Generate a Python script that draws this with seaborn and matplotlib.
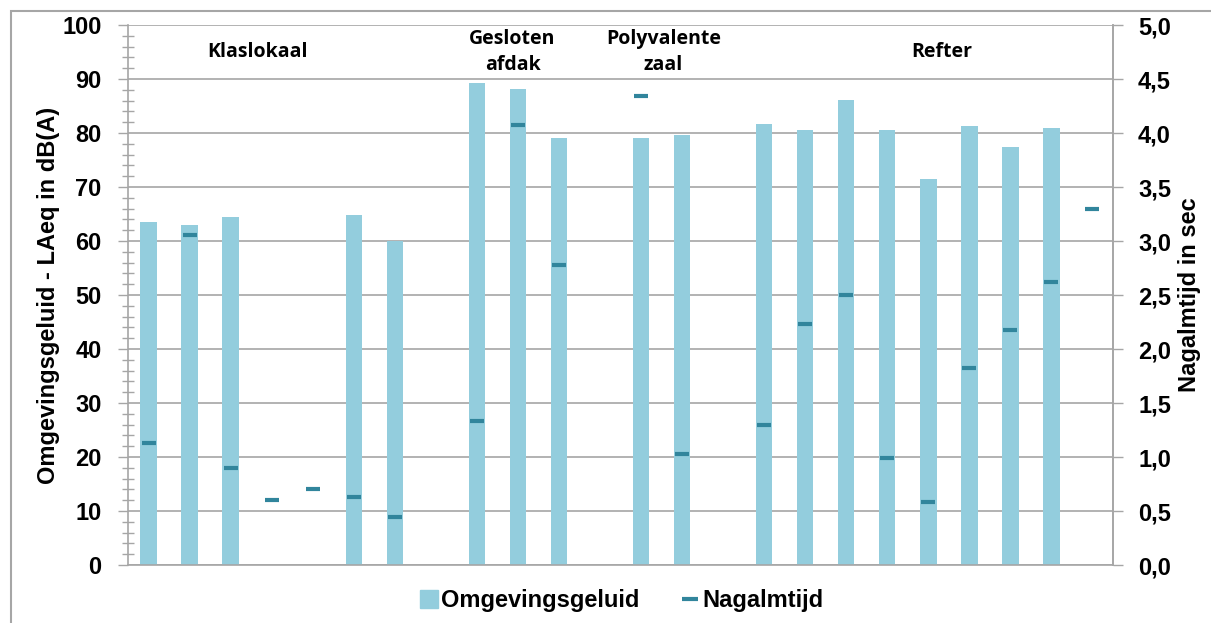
import numpy as np
import pandas as pd
import matplotlib
matplotlib.use("Agg")
import matplotlib.pyplot as plt
from matplotlib.lines import Line2D
from matplotlib.patches import Rectangle
from matplotlib.ticker import MultipleLocator, FuncFormatter
import seaborn as sns

# ---- data ----
slots = [f"m{i+1}" for i in range(24)]
omgevingsgeluid = [63.6, 62.9, 64.4, None, None, 64.9, 60.0, None,
                   89.3, 88.1, 79.1, None, 79.1, 79.6, None,
                   81.7, 80.6, 86.2, 80.6, 71.4, 81.3, 77.5, 81.0, None]
nagalmtijd = [1.13, 3.06, 0.90, 0.60, 0.70, 0.63, 0.44, None,
              1.33, 4.07, 2.78, None, 4.34, 1.03, None,
              1.30, 2.23, 2.50, 0.99, 0.58, 1.82, 2.18, 2.62, 3.30]
groups = ["Klaslokaal", "Gesloten\nafdak", "Polyvalente\nzaal", "Refter"]
group_pos = [2.65, 8.87, 12.55, 19.33]
left_ticks = list(range(0, 101, 10))
right_ticks = [i * 0.5 for i in range(11)]
series_names = ["Omgevingsgeluid", "Nagalmtijd"]
left_label = "Omgevingsgeluid - LAeq in dB(A)"
right_label = "Nagalmtijd in sec"

bar_color = "#93CDDD"
mark_color = "#31859C"
grid_color = "#A6A6A6"

df = pd.DataFrame({
    "slot": slots,
    "pos": np.arange(len(slots)),
    "geluid": pd.Series(omgevingsgeluid, dtype="float"),
    "nagalm": pd.Series(nagalmtijd, dtype="float"),
})

sns.set_theme(style="white")
plt.rcParams["font.family"] = ["Liberation Sans", "DejaVu Sans"]
plt.rcParams["text.color"] = "black"
plt.rcParams["axes.labelcolor"] = "black"
plt.rcParams["xtick.color"] = "black"
plt.rcParams["ytick.color"] = "black"

W, H = 1211, 623
fig = plt.figure(figsize=(W / 100, H / 100), dpi=100)
ax = fig.add_axes([128 / W, 1 - 565 / H, (1113 - 128) / W, (565 - 25) / H])

sns.barplot(data=df, x="slot", y="geluid", order=slots, color=bar_color,
            saturation=1, width=0.4, ax=ax, edgecolor="none", errorbar=None)
ax.set_xlim(-0.5, len(slots) - 0.5)
ax.set_ylim(0, 100)
ax.set_xticks([])
ax.set_xlabel("")
ax.set_yticks(left_ticks)
ax.yaxis.set_minor_locator(MultipleLocator(2))
ax.tick_params(axis="y", which="major", direction="out", length=7, width=1,
               color=grid_color, labelcolor="black", pad=12, labelsize=17)
ax.tick_params(axis="y", which="minor", direction="inout", length=8, width=1,
               color=grid_color, left=True)
for lab in ax.get_yticklabels():
    lab.set_fontweight("bold")
ax.yaxis.grid(True, which="major", color=grid_color, lw=1.2)
ax.set_axisbelow(True)
for s in ["left", "bottom", "right"]:
    ax.spines[s].set_visible(True)
    ax.spines[s].set_color(grid_color)
    ax.spines[s].set_linewidth(1.2)
ax.spines["top"].set_visible(False)
ax.set_ylabel(left_label, fontsize=17, fontweight="bold", color="black")
ax.yaxis.set_label_coords(-0.069, 0.5)

ax2 = ax.twinx()
sns.scatterplot(data=df.dropna(subset=["nagalm"]), x="pos", y="nagalm",
                marker="_", s=110, color=mark_color, linewidth=3, ax=ax2,
                legend=False, zorder=5)
ax2.set_xlim(-0.5, len(slots) - 0.5)
ax2.set_ylim(0, 5)
ax2.set_yticks(right_ticks)
ax2.yaxis.set_major_formatter(FuncFormatter(lambda v, p: f"{v:.1f}".replace(".", ",")))
ax2.tick_params(axis="y", which="major", direction="out", length=7, width=1,
                color=grid_color, labelcolor="black", pad=11, labelsize=17,
                right=True)
for lab in ax2.get_yticklabels():
    lab.set_fontweight("bold")
ax2.grid(False)
for s in ["left", "bottom", "top"]:
    ax2.spines[s].set_visible(False)
ax2.spines["right"].set_color(grid_color)
ax2.spines["right"].set_linewidth(1.2)
ax2.set_xlabel("")
ax2.set_ylabel(right_label, fontsize=17, fontweight="bold", color="black")
ax2.yaxis.set_label_coords(1.066, 0.5)

for g, xp in zip(groups, group_pos):
    ax.text(xp, 95.0, g, ha="center", va="center", fontsize=14,
            fontweight="bold", family=["Open Sans", "DejaVu Sans"],
            linespacing=1.45, color="black")

handles = [
    Line2D([], [], marker="s", ls="none", color=bar_color, markersize=13),
    Line2D([], [], marker="_", ls="none", color=mark_color, markersize=11,
           markeredgewidth=3),
]
leg = fig.legend(handles, series_names, loc="center",
                 bbox_to_anchor=(622 / W, 1 - 601 / H), ncol=2, frameon=False,
                 prop={"size": 17, "weight": "bold"}, handlelength=0.7,
                 handletextpad=0.15, columnspacing=1.8, labelcolor="black")

fig.patches.append(Rectangle((11 / W, -0.1), 1.2, 1 - 11 / H + 0.1,
                             transform=fig.transFigure, fill=False,
                             edgecolor=grid_color, lw=1.5))

fig.savefig("out.png", dpi=100)
